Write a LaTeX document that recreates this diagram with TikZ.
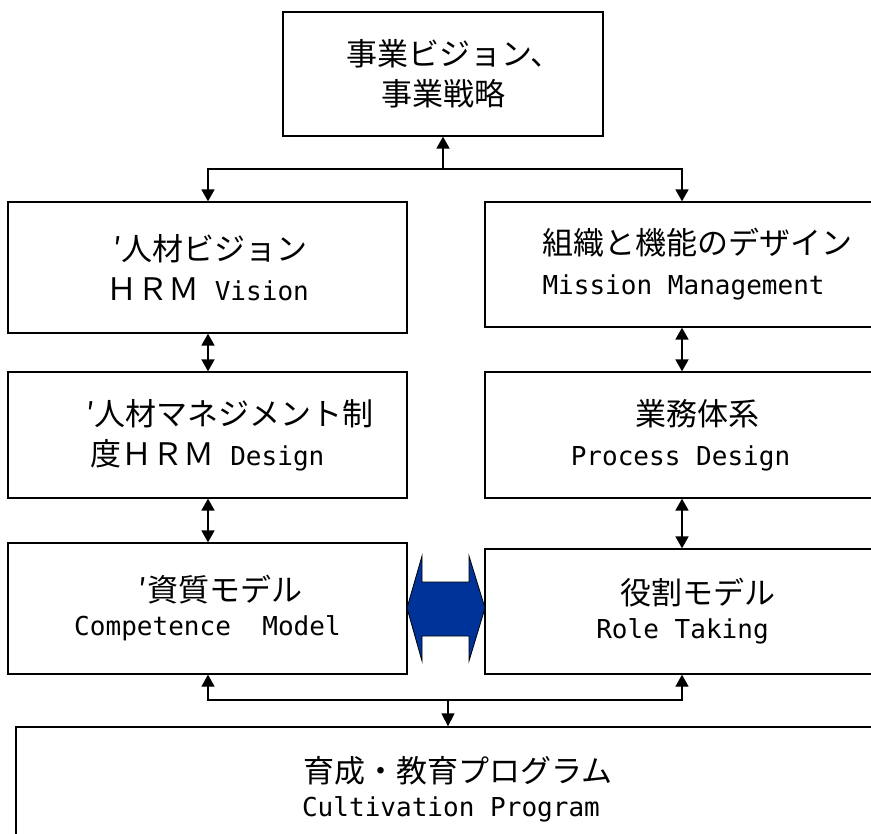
\documentclass[tikz,border=0pt]{standalone}
\usepackage{fontspec}
\setmainfont{Noto Sans CJK JP}
\newfontfamily\mnf[Scale=0.84]{DejaVu Sans Mono}
\newcommand\latn[1]{{\mnf #1}}
\usetikzlibrary{arrows.meta}
\definecolor{arrowblue}{RGB}{0,51,153}
\begin{document}
\begin{tikzpicture}[x=1pt,y=-1pt,
  box/.style={draw, line width=1.3pt, rectangle, inner sep=0pt, align=center,
    font=\fontsize{31pt}{40pt}\selectfont},
  dbl/.style={line width=1.8pt, >={Triangle[width=13pt,length=12pt]}, <->},
  sgl/.style={line width=1.8pt, >={Triangle[width=13pt,length=12pt]}, ->},
  dblthin/.style={line width=1.3pt, >={Triangle[width=13pt,length=12pt]}, <->},
  sglthin/.style={line width=1.3pt, >={Triangle[width=13pt,length=13pt]}, ->},
  bluearrow/.style={draw=black, line width=0.8pt, fill=arrowblue, line join=miter}
]
\useasboundingbox (0,0) rectangle (871,834);
\clip (0,0) rectangle (871,834);
\fill[white] (0,0) rectangle (871,834);

% column x positions
\coordinate (lx) at (208,0);
\coordinate (rx) at (682,0);

\node[box, minimum width=320pt, minimum height=124pt] (top) at (443,74)
  {\hspace*{22pt}事業ビジョン、\\事業戦略};

\node[box, minimum width=399pt, minimum height=131pt] (l1) at (207.5,267.5)
  {\hspace*{6pt}′人材ビジョン\\ＨＲＭ\latn{ Vision}};
\node[box, minimum width=399pt, minimum height=126pt] (l2) at (207.5,435)
  {\hspace*{45pt}′人材マネジメント制\\度ＨＲＭ\latn{ Design}};
\node[box, minimum width=399pt, minimum height=131pt] (l3) at (207.5,608.5)
  {\hspace*{26pt}′資質モデル\\[-6pt]\latn{Competence~~Model}};

\node[box, align=left, minimum width=425pt, minimum height=125pt] (r1) at (697.5,264.5)
  {組織と機能のデザイン\\\latn{Mission Management}};
\node[box, minimum width=425pt, minimum height=126pt] (r2) at (697.5,435)
  {業務体系\\\latn{Process Design}\hspace*{34pt}};
\node[box, minimum width=425pt, minimum height=125pt] (r3) at (697.5,611.5)
  {役割モデル\\[-6pt]\latn{Role Taking}\hspace*{30pt}};

\node[box, minimum width=884pt, minimum height=124pt] (bot) at (458,789)
  {育成・教育プログラム\\[-6pt]\latn{Cultivation Program}\hspace*{14pt}};

% top connector
\coordinate (jt) at (443,169);
\draw[sgl] (jt) -- (top.south);
\draw[dbl] (l1.north -| lx) |- (jt) -| (r1.north -| rx);

% vertical connectors
\draw[dbl] (l1.south -| lx) -- (l2.north -| lx);
\draw[dbl] (l2.south -| lx) -- (l3.north -| lx);
\draw[dbl] (r1.south -| rx) -- (r2.north -| rx);
\draw[dbl] (r2.south -| rx) -- (r3.north -| rx);

% bottom connector
\coordinate (jb) at (448,700);
\draw[dblthin] (l3.south -| lx) |- (jb) -| (r3.south -| rx);
\draw[sglthin] (jb) -- (bot.north -| jb);

% blue double arrow between the two model boxes
\draw[bluearrow] (407,608) -- (422,556) -- (422,582) -- (469,582) -- (469,556)
  -- (485,608) -- (469,661) -- (469,636) -- (422,636) -- (422,661) -- cycle;
\end{tikzpicture}
\end{document}
